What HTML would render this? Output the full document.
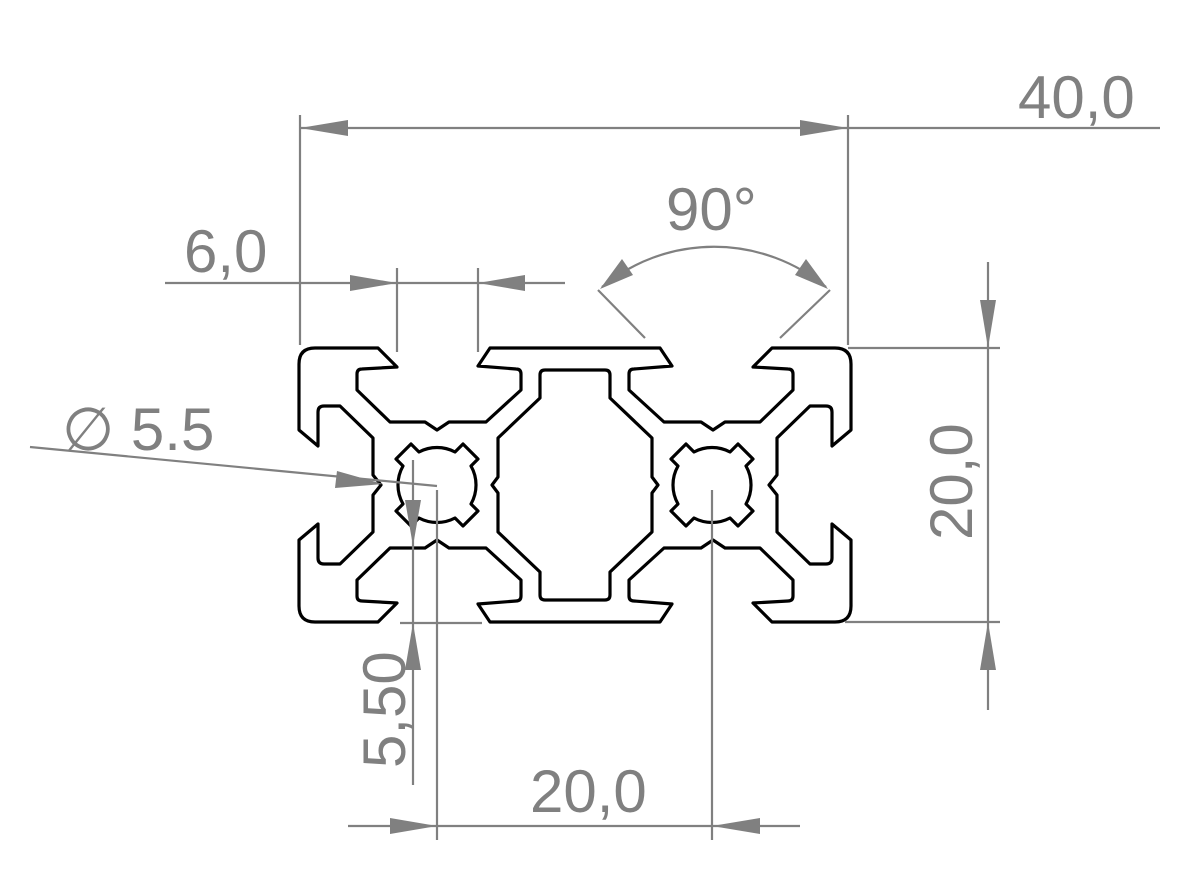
<!DOCTYPE html>
<html><head><meta charset="utf-8"><style>
html,body{margin:0;padding:0;background:#fff;}
svg{display:block;}
text{font-family:"Liberation Sans","DejaVu Sans",sans-serif;fill:#808080;font-size:60px;}
</style></head><body>
<svg width="1200" height="889" viewBox="0 0 1200 889" xmlns="http://www.w3.org/2000/svg">
<defs>
<path id="half" d="M575 348 L490 348 L478 366 L516 369 Q521 369 521 374 L521 390 L486 422 L449 422 L437 430 L425 422 L390 422 L357 390 L357 374 Q357 369 362 369 L397 367 L378 348 L315 348 Q299 348 299 364 L299 430 L318 446 L318 412 Q318 406 324 406 L340 406 L373 438 L373 475 L381 485 L373 495 L373 532 L340 564 L324 564 Q318 564 318 558 L318 524 L299 540 L299 606 Q299 622 315 622 L378 622 L397 603 L362 601 Q357 601 357 596 L357 580 L390 548 L425 548 L437 540 L449 548 L486 548 L521 580 L521 596 Q521 601 516 601 L478 604 L490 622 L575 622"/>
<path id="cav" d="M575 370 L545 370 Q540 370 540 375 L540 398 L498 438 L498 477 L492 485 L498 493 L498 532 L540 572 L540 595 Q540 600 545 600 L575 600"/>
<path id="hole" d="M18 -33 L26 -41 L41 -26 L34 -19 A38.5 38.5 0 0 1 34 19 L41 26 L26 41 L18 33 A38.5 38.5 0 0 1 -18 33 L-26 41 L-41 26 L-34 19 A38.5 38.5 0 0 1 -34 -19 L-41 -26 L-26 -41 L-18 -33 A38.5 38.5 0 0 1 18 -33 Z"/>
</defs>
<g fill="none" stroke="#000" stroke-width="3.2" stroke-linejoin="round">
<use href="#half"/>
<use href="#half" transform="translate(1150 0) scale(-1 1)"/>
<use href="#cav"/>
<use href="#cav" transform="translate(1150 0) scale(-1 1)"/>
<use href="#hole" transform="translate(437 485)"/>
<use href="#hole" transform="translate(712 485)"/>
</g>
<g stroke="#808080" stroke-width="2.2" fill="none">
<line x1="300" y1="128" x2="1160" y2="128"/>
<line x1="300" y1="115" x2="300" y2="345"/>
<line x1="848" y1="115" x2="848" y2="345"/>
<line x1="165" y1="283" x2="565" y2="283"/>
<line x1="397" y1="268" x2="397" y2="352"/>
<line x1="478" y1="268" x2="478" y2="352"/>
<line x1="598" y1="290" x2="645" y2="338"/>
<line x1="830" y1="290" x2="780" y2="338"/>
<path d="M602 287 A176 176 0 0 1 826 287"/>
<line x1="988" y1="262" x2="988" y2="710"/>
<line x1="848" y1="348" x2="1000" y2="348"/>
<line x1="845" y1="622" x2="1000" y2="622"/>
<line x1="30" y1="447" x2="437" y2="486"/>
<line x1="413" y1="460" x2="413" y2="785"/>
<line x1="437" y1="490" x2="437" y2="840"/>
<line x1="400" y1="623" x2="482" y2="623"/>
<line x1="348" y1="826" x2="800" y2="826"/>
<line x1="712" y1="490" x2="712" y2="840"/>
</g>
<g fill="#808080">
<polygon points="300,128 348,120 348,136"/>
<polygon points="848,128 800,120 800,136"/>
<polygon points="397,283 350,275 350,291"/>
<polygon points="478,283 525,275 525,291"/>
<polygon points="988,348 980,300 996,300"/>
<polygon points="988,622 980,670 996,670"/>
<polygon points="383,484 337,471 335,488"/>
<polygon points="413,546 405,500 421,500"/>
<polygon points="413,623 405,670 421,670"/>
<polygon points="437,826 390,818 390,834"/>
<polygon points="712,826 760,818 760,834"/>
<polygon points="600,289 622,259 633,275"/>
<polygon points="828,289 795,275 806,259"/>
</g>
<text x="1018" y="118">40,0</text>
<text x="184" y="272">6,0</text>
<text x="666" y="230">90°</text>
<text x="62" y="450">∅ 5.5</text>
<text x="530" y="812">20,0</text>
<text transform="translate(972 540) rotate(-90)">20,0</text>
<text transform="translate(405 768) rotate(-90)">5,50</text>
</svg>
</body></html>
